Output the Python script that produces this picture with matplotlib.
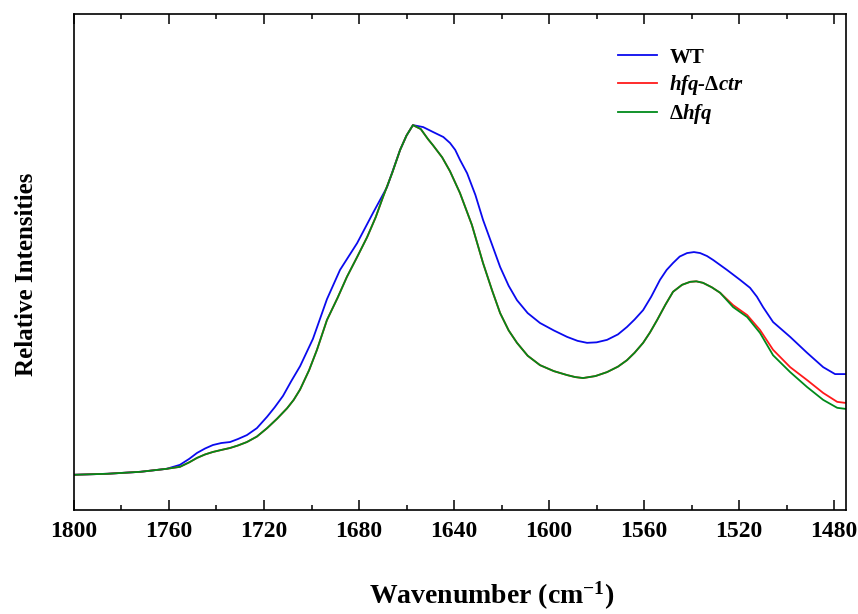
import numpy as np
import matplotlib
matplotlib.use("Agg")
import matplotlib.pyplot as plt
from matplotlib.ticker import MultipleLocator

plt.rcParams['font.family'] = ['Liberation Serif', 'DejaVu Serif']
plt.rcParams['font.weight'] = 'bold'
plt.rcParams['mathtext.fontset'] = 'custom'
plt.rcParams['mathtext.rm'] = 'Liberation Serif:bold'
plt.rcParams['mathtext.it'] = 'Liberation Serif:italic:bold'
plt.rcParams['mathtext.bf'] = 'Liberation Serif:bold'
plt.rcParams['mathtext.default'] = 'rm'

# WT spectrum (wavenumber, relative intensity)
wt_wn = [1800, 1786, 1772, 1761, 1755.4, 1751.5, 1748.2, 1744.8, 1741.5, 1738,
         1734.3, 1731, 1727.2, 1723, 1718.7, 1715.5, 1712, 1708.5, 1704.8,
         1699.4, 1693.5, 1688, 1680.8, 1674.1, 1668.2, 1665.5, 1662.7, 1660,
         1657.3, 1653, 1648.8, 1644.5, 1641.7, 1639.5, 1637.5, 1634.5, 1631,
         1627.8, 1624, 1620.6, 1617, 1613.5, 1609, 1603.8, 1598, 1592.4, 1588,
         1584, 1580, 1575.6, 1571, 1567.2, 1564, 1560.4, 1557, 1553.3, 1550.5,
         1547.8, 1545, 1541.9, 1539, 1536.4, 1533.5, 1530.9, 1525.1, 1519.6,
         1515.4, 1512.5, 1509.9, 1505.7, 1498.5, 1491.4, 1484.6, 1479.6, 1475.4]
wt_int = [0.071, 0.073, 0.077, 0.083, 0.091, 0.103, 0.115, 0.124, 0.131, 0.135,
          0.137, 0.143, 0.151, 0.165, 0.188, 0.207, 0.230, 0.260, 0.290,
          0.345, 0.425, 0.484, 0.538, 0.599, 0.651, 0.688, 0.726, 0.755,
          0.776, 0.772, 0.762, 0.752, 0.740, 0.726, 0.706, 0.679, 0.635,
          0.585, 0.535, 0.490, 0.452, 0.423, 0.397, 0.377, 0.362, 0.349, 0.341,
          0.337, 0.338, 0.343, 0.354, 0.369, 0.384, 0.403, 0.430, 0.464, 0.484,
          0.498, 0.511, 0.518, 0.520, 0.518, 0.512, 0.504, 0.484, 0.464,
          0.448, 0.430, 0.409, 0.379, 0.349, 0.317, 0.288, 0.274, 0.274]

# delta-hfq spectrum
dhfq_wn = [1800, 1786, 1772, 1761, 1755.4, 1751.5, 1748.2, 1744.8, 1741.5, 1738,
           1734.3, 1731, 1727.2, 1723, 1718.7, 1714.5, 1710.3, 1707.5, 1704.8,
           1701, 1697.7, 1693.5, 1689, 1685.1, 1680.8, 1676.6, 1673, 1669.9,
           1666, 1662.7, 1660, 1657.3, 1654, 1651, 1648.8, 1645, 1641.7, 1637.5,
           1632.5, 1627.8, 1624, 1620.6, 1617, 1613.5, 1609, 1603.8, 1598, 1592.4,
           1589, 1585.7, 1580.5, 1575.6, 1571, 1567.2, 1564, 1560.4, 1557.5,
           1554.5, 1551, 1547.8, 1544, 1540.6, 1538, 1535.2, 1531.5, 1528, 1522.5,
           1516.6, 1511.2, 1505.7, 1498.5, 1491.4, 1484.6, 1478.7, 1475.4]
dhfq_int = [0.071, 0.073, 0.077, 0.083, 0.087, 0.096, 0.105, 0.112, 0.117, 0.121,
            0.125, 0.130, 0.137, 0.148, 0.165, 0.184, 0.205, 0.222, 0.243,
            0.282, 0.323, 0.383, 0.428, 0.470, 0.510, 0.550, 0.590, 0.631,
            0.680, 0.726, 0.755, 0.776, 0.768, 0.748, 0.735, 0.711, 0.683, 0.639,
            0.575, 0.498, 0.443, 0.397, 0.362, 0.337, 0.311, 0.292, 0.280, 0.272,
            0.268, 0.266, 0.270, 0.278, 0.289, 0.302, 0.317, 0.337, 0.358,
            0.383, 0.414, 0.440, 0.454, 0.460, 0.461, 0.458, 0.449, 0.438, 0.409,
            0.389, 0.357, 0.312, 0.278, 0.248, 0.222, 0.206, 0.204]

# hfq-delta-ctr spectrum (matches delta-hfq except at the low-wavenumber end)
ctr_wn = dhfq_wn
ctr_int = dhfq_int[:-9] + [0.413, 0.393, 0.363, 0.323, 0.288, 0.262, 0.236,
                           0.218, 0.216]

fig = plt.figure(figsize=(8.58, 6.14), dpi=100)
ax = fig.add_axes([0.0862, 0.1694, 0.8998, 0.8078])

ax.plot(wt_wn, wt_int, color="#0a0aee", lw=1.3, label="WT")
ax.plot(ctr_wn, ctr_int, color="#ff1a1a", lw=1.3, label=r"hfq-$\Delta$ctr")
ax.plot(dhfq_wn, dhfq_int, color="#008a1a", lw=1.3, label=r"$\Delta$hfq")

ax.set_xlim(1800, 1475)
ax.set_ylim(0, 1)
ax.xaxis.set_major_locator(MultipleLocator(40))
ax.xaxis.set_minor_locator(MultipleLocator(20))
ax.tick_params(axis="x", which="both", direction="in", top=True, bottom=True,
               width=1.1, labelsize=17, pad=8)
ax.tick_params(axis="x", which="major", length=7.2)
ax.tick_params(axis="x", which="minor", length=3.6)
ax.set_yticks([])
for s in ax.spines.values():
    s.set_linewidth(1.2)

ax.set_xlabel(r"Wavenumber (cm$^{-1}$)", fontsize=20, fontweight="bold")
ax.xaxis.set_label_coords(0.541, -0.14)
ax.set_ylabel("Relative Intensities", fontsize=18, fontweight="bold")
ax.yaxis.set_label_coords(-0.046, 0.475)

leg = ax.legend(loc="upper left", bbox_to_anchor=(0.705, 0.932), frameon=False,
                fontsize=15, handlelength=1.85, handletextpad=0.6,
                labelspacing=0.25, borderpad=0, borderaxespad=0)
for t in leg.get_texts()[1:]:
    t.set_style("italic")

fig.savefig("out.png", dpi=100)
